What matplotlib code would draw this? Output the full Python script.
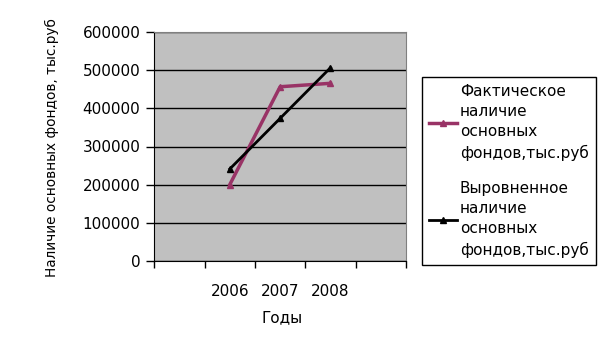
import matplotlib
matplotlib.use("Agg")
import matplotlib.pyplot as plt

years = ["2006", "2007", "2008"]
actual = [200000, 457000, 466000]
trend = [241000, 374000, 507000]
series_labels = ["Фактическое\nналичие\nосновных\nфондов,тыс.руб",
                 "Выровненное\nналичие\nосновных\nфондов,тыс.руб"]
y_ticks = [0, 100000, 200000, 300000, 400000, 500000, 600000]
x_title = "Годы"
y_title = "Наличие основных фондов, тыс.руб"

plt.rcParams['font.family'] = ['DejaVu Sans']
FS = 11

fig = plt.figure(figsize=(6.14, 3.52), dpi=100)
fig.patch.set_facecolor("white")
ax = fig.add_axes([154.3 / 614, 1 - 260.7 / 352, (406 - 154.3) / 614, (260.7 - 32.3) / 352])
ax.set_facecolor("#C0C0C0")

xpos = [1.5, 2.5, 3.5]
l1, = ax.plot(xpos, actual, color="#993366", lw=2.5, marker="^", ms=5, zorder=3)
l2, = ax.plot(xpos, trend, color="black", lw=2.0, marker="^", ms=5, zorder=4)

ax.set_xlim(0, 5)
ax.set_ylim(0, 600000)
ax.set_yticks(y_ticks)
ax.set_yticklabels([str(v) for v in y_ticks], fontsize=FS)
ax.set_xticks([0, 1, 2, 3, 4, 5])
ax.set_xticklabels([])
ax.set_xticks(xpos, minor=True)
ax.set_xticklabels(years, minor=True, fontsize=FS)
ax.tick_params(axis="x", which="minor", length=0, pad=17)
ax.tick_params(axis="x", which="major", length=5, direction="out", width=1)
ax.tick_params(axis="y", length=6, direction="out", width=1, pad=4)
ax.grid(axis="y", color="black", lw=1)
ax.set_axisbelow(True)
for s in ["top", "right"]:
    ax.spines[s].set_color("#808080")
for s in ["left", "bottom"]:
    ax.spines[s].set_color("black")

fig.text(282 / 614, 1 - 318 / 352, x_title, ha="center", va="center", fontsize=FS)
fig.text(52 / 614, 1 - 277 / 352, y_title, ha="center", va="bottom",
         rotation=90, fontsize=9.8)

leg = fig.legend([l1, l2], series_labels, loc="upper left",
                 bbox_to_anchor=(421.7 / 614, 1 - 76.7 / 352),
                 fontsize=FS, frameon=True, fancybox=False, edgecolor="black",
                 framealpha=1, handlelength=1.85, handletextpad=0.2,
                 borderpad=0.45, labelspacing=1.25, borderaxespad=0)
leg.get_frame().set_linewidth(1.0)
for t in leg.get_texts():
    t.set_linespacing(1.45)

fig.savefig("out.png", dpi=100)
